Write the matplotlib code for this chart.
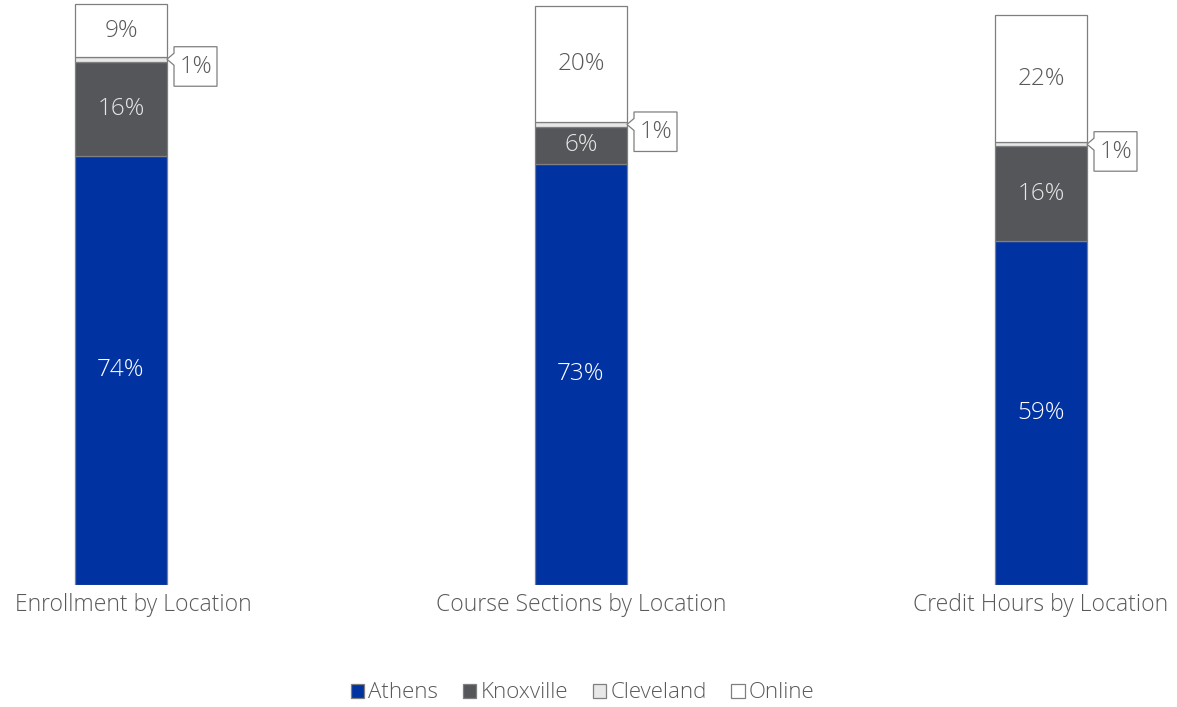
import matplotlib
matplotlib.use("Agg")
import matplotlib.pyplot as plt
import matplotlib.transforms as mtransforms
from matplotlib.patches import Polygon, Patch

# data (percent of each total)
categories = ["Enrollment by Location", "Course Sections by Location", "Credit Hours by Location"]
locations = ["Athens", "Knoxville", "Cleveland", "Online"]
athens = [74.0, 72.6, 59.3]
knoxville = [16.2, 6.4, 16.4]
cleveland = [0.9, 0.8, 0.6]
online = [9.0, 20.1, 21.9]

colors = ["#0033a1", "#55565a", "#e8e8e8", "#ffffff"]
textcolors = ["white", "#e6e6e6", "#595959", "#595959"]
edge = "#7f7f7f"

plt.rcParams['font.family'] = ['Open Sans', 'DejaVu Sans']
plt.rcParams['font.weight'] = 300

fig = plt.figure(figsize=(11.77, 7.07), dpi=100)
ax = fig.add_axes([6 / 1177, 122 / 707, 1150 / 1177, 585 / 707])

x = list(range(len(categories)))
width = 0.2
series = [athens, knoxville, cleveland, online]
bottoms = [0.0] * len(categories)
for vals, col, tcol, name in zip(series, colors, textcolors, locations):
    ax.bar(x, vals, width, bottom=bottoms, color=col, edgecolor=edge, linewidth=0.9, label=name)
    for i, v in enumerate(vals):
        mid = bottoms[i] + v / 2
        label = "{:.0f}%".format(v)
        if name == "Cleveland":
            # callout box to the right of the thin slice
            trans = fig.dpi_scale_trans + mtransforms.ScaledTranslation(i + width / 2, mid, ax.transData)
            pts = [(0, 0), (7, 6), (7, 12.5), (50, 12.5), (50, -27), (7, -27), (7, -6)]
            poly = Polygon([(px / 100, py / 100) for px, py in pts], closed=True,
                           facecolor="white", edgecolor=edge, linewidth=0.9,
                           transform=trans, clip_on=False, zorder=5)
            ax.add_patch(poly)
            ax.text(28.5 / 100, -8 / 100, label, transform=trans, ha="center", va="center",
                    fontsize=17, color=tcol, zorder=6)
        else:
            ax.text(i, mid, label, ha="center", va="center", fontsize=17.5, color=tcol)
    bottoms = [b + v for b, v in zip(bottoms, vals)]

ax.set_xlim(-0.25, 2.25)
ax.set_ylim(0, 585 / 5.8)
ax.set_xticks(x)
ax.set_xticklabels(categories, fontsize=16.5, color="#595959")
ax.tick_params(axis="x", length=0, pad=6)
ax.set_yticks([])
for s in ax.spines.values():
    s.set_visible(False)
ax.get_xticklabels()[0].set_transform(ax.get_xticklabels()[0].get_transform() +
                                      mtransforms.ScaledTranslation(12 / 100, 0, fig.dpi_scale_trans))

handles = [Patch(facecolor=c, edgecolor=edge, linewidth=0.9) for c in colors]
fig.legend(handles, locations, loc="center", bbox_to_anchor=(0.495, 1 - 693 / 707), ncol=4,
           frameon=False, fontsize=16, handlelength=0.6, handleheight=0.6,
           handletextpad=0.2, columnspacing=1.1, labelcolor="#595959")

fig.savefig("out.png", dpi=100)
